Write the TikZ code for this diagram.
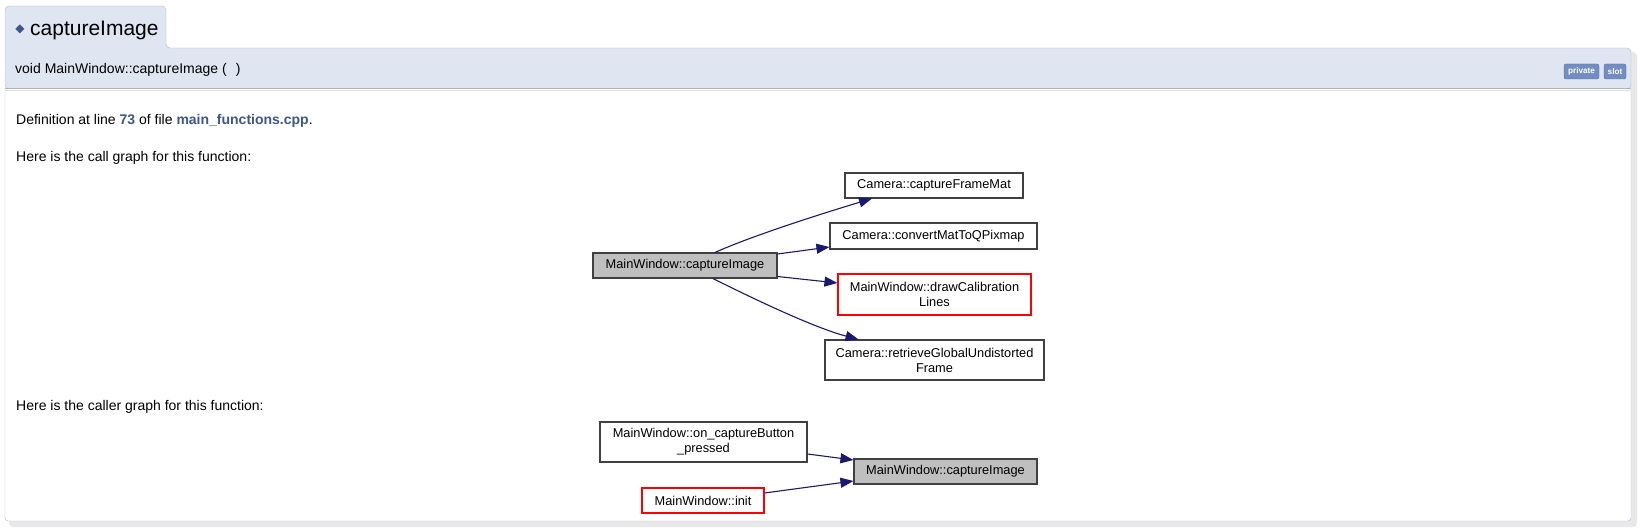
\documentclass[tikz,border=0pt]{standalone}
\usepackage{fontspec}
\setmainfont{Liberation Sans}
\newfontfamily\symfont{DejaVu Sans}
\usetikzlibrary{arrows.meta}
\definecolor{hdrfill}{HTML}{DFE5F1}
\definecolor{hdrline}{HTML}{A8B8D9}
\definecolor{linkblue}{HTML}{3D578C}
\definecolor{badgefill}{HTML}{728DC1}
\definecolor{badgeline}{HTML}{5373B4}
\definecolor{edgeblue}{HTML}{191970}
\definecolor{nodeline}{HTML}{404040}
\definecolor{nodegray}{HTML}{BFBFBF}

\begin{document}
\begin{tikzpicture}[x=1pt,y=-1pt,
  fn/.style={draw=nodeline,line width=1.1pt,fill=white,inner sep=0pt,align=center,
    font=\fontsize{12.8}{15}\selectfont},
  self/.style={fn,fill=nodegray},
  undoc/.style={fn,draw=red},
  call/.style={draw=edgeblue,line width=1.1pt,-{Triangle[length=13pt,width=10pt]}},
  badge/.style={draw=badgeline,fill=badgefill,text=white,rounded corners=2pt,inner sep=0pt,
    minimum height=15pt,font=\bfseries\fontsize{8.2}{10}\selectfont},
  txt/.style={anchor=base west,inner sep=0pt,font=\fontsize{14}{17}\selectfont}]
\useasboundingbox (0,0) rectangle (1641,532);
\fill[gray!18,rounded corners=4pt] (9,52) rectangle (1637,527);
\filldraw[fill=hdrfill,draw=hdrline,rounded corners=4pt] (5,89) -- (5,6) -- (166,6) -- (166,48) -- (1631,48) -- (1631,89) -- cycle;
\filldraw[fill=white,draw=hdrline,rounded corners=3pt] (5,89) -- (5,521) -- (1631,521) -- (1631,89);
\draw[gray!60,line width=1pt] (5,89) -- (1631,89);
\draw[gray!25,line width=1pt] (5,90.5) -- (1631,90.5);

\node[inner sep=0pt,text=linkblue,font=\symfont\fontsize{12}{12}\selectfont] (mark) at (20,29) {◆};
\node[anchor=base west,inner sep=0pt,font=\fontsize{21}{25}\selectfont] (title) at (30,35.5) {captureImage};
\node[txt] (proto) at (15,74) {void MainWindow::captureImage (\hspace{9pt})};
\node[badge,minimum width=35pt] (private) at (1581.5,71.5) {private};
\node[badge,minimum width=22pt] (slot) at (1615,71.5) {slot};

\node[txt] (defline) at (16,124.5) {Definition at line \textbf{\color{linkblue}73} of file \textbf{\color{linkblue}main\_functions.cpp}.};
\node[txt] (callhdr) at (16,161) {Here is the call graph for this function:};
\node[txt] (callerhdr) at (16,410) {Here is the caller graph for this function:};

\node[self,minimum width=184pt,minimum height=25pt] (capture) at (685,265.5) {MainWindow::captureImage};
\node[fn,minimum width=178pt,minimum height=25pt] (frameMat) at (934,185.5) {Camera::captureFrameMat};
\node[fn,minimum width=207pt,minimum height=26pt] (toPixmap) at (933.5,236) {Camera::convertMatToQPixmap};
\node[undoc,minimum width=193pt,minimum height=41pt] (calibLines) at (934.5,294.5) {MainWindow::drawCalibration\\Lines};
\node[fn,minimum width=219pt,minimum height=40pt] (undistFrame) at (934.5,360) {Camera::retrieveGlobalUndistorted\\Frame};

\draw[call] ([xshift=30]capture.north) .. controls +(40,-18) and +(-40,12) .. ([xshift=-62]frameMat.south);
\draw[call] ([yshift=11.5]capture.east) -- ([yshift=-11]toPixmap.west);
\draw[call] ([yshift=-11]capture.east) -- ([yshift=11.5]calibLines.west);
\draw[call] ([xshift=28]capture.south) .. controls +(40,20) and +(-45,-12) .. ([xshift=-76]undistFrame.north);

\node[fn,minimum width=207pt,minimum height=40pt] (buttonPressed) at (703.5,442) {MainWindow::on\_captureButton\\\_pressed};
\node[self,minimum width=183pt,minimum height=25pt] (captureTarget) at (945.5,471.5) {MainWindow::captureImage};
\node[undoc,minimum width=122pt,minimum height=25pt] (init) at (703,500.5) {MainWindow::init};

\draw[call] ([yshift=-12]buttonPressed.east) -- ([yshift=11.5]captureTarget.west);
\draw[call] ([yshift=7.5]init.east) -- ([yshift=-9.5]captureTarget.west);
\end{tikzpicture}
\end{document}
